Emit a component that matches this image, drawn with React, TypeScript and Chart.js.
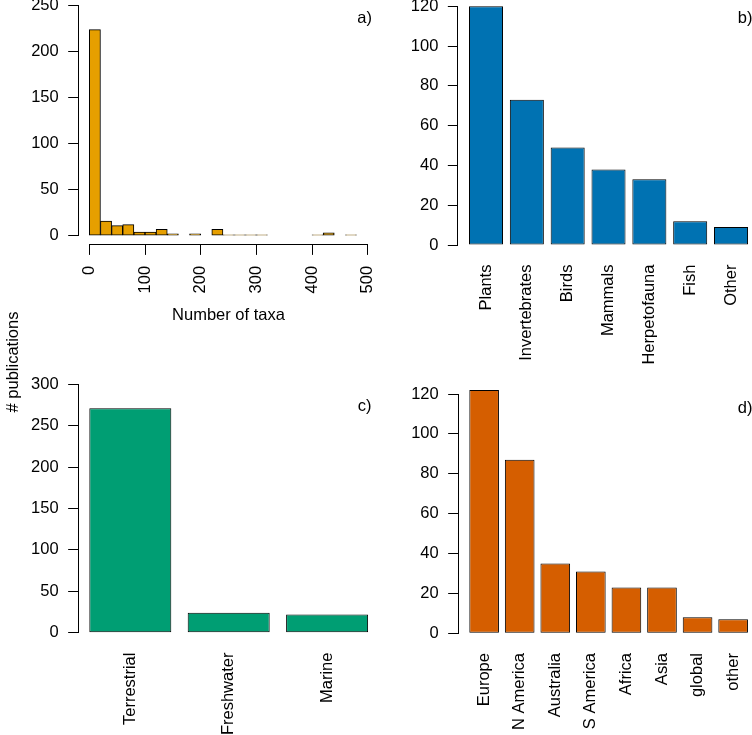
import React, { useEffect, useRef } from "react";
import { Chart, registerables } from "chart.js";

Chart.register(...registerables);

// ---------- data ----------
const taxaBinStarts = [0, 20, 40, 60, 80, 100, 120, 140, 160, 180, 200, 220, 240, 260, 280, 300, 320, 340, 360, 380, 400, 420, 440, 460, 480];
const taxaCounts = [224, 16, 11, 12, 4, 4, 7, 2, 0, 2, 0, 7, 1, 1, 1, 1, 0, 0, 0, 0, 1, 3, 0, 1, 0];
const taxaXTicks = [0, 100, 200, 300, 400, 500];
const taxaYTicks = [0, 50, 100, 150, 200, 250];

const groupLabels = ["Plants", "Invertebrates", "Birds", "Mammals", "Herpetofauna", "Fish", "Other"];
const groupCounts = [120, 73, 49, 38, 33, 12, 9];
const groupYTicks = [0, 20, 40, 60, 80, 100, 120];

const realmLabels = ["Terrestrial", "Freshwater", "Marine"];
const realmCounts = [271, 24, 22];
const realmYTicks = [0, 50, 100, 150, 200, 250, 300];

const regionLabels = ["Europe", "N America", "Australia", "S America", "Africa", "Asia", "global", "other"];
const regionCounts = [122, 87, 35, 31, 23, 23, 8, 7];
const regionYTicks = [0, 20, 40, 60, 80, 100, 120];

const BIN_WIDTH = 20;
const FONT = "'Liberation Sans', Arial, Helvetica, sans-serif";
const FONT_SIZE = 16.5;

// barplot positions (R style: width 1, space 0.2)
const barCenters = (n: number) => Array.from({ length: n }, (_, i) => 0.7 + 1.2 * i);

type Panel = {
  canvas: { left: number; top: number; width: number; height: number };
  pad: { top: number; right: number; bottom: number };
  yWidth: number;
  xHeight: number;
  xMin: number;
  xMax: number;
  yMin: number;
  yMax: number;
  points: { x: number; y: number }[];
  xTicks: number[];
  xLabels: string[] | null;
  yTicks: number[];
  color: string;
  barFrac: number;
  tag: string;
  tagX: number;
  tagY: number;
  xTitle: string | null;
  xTickMarks: boolean;
  xPad: number;
};

const panels: Panel[] = [
  {
    canvas: { left: 0, top: -6, width: 382, height: 333 },
    pad: { top: 2.5, right: 3.2, bottom: 1.7 },
    yWidth: 78.2,
    xHeight: 80.4,
    xMin: -20,
    xMax: 520,
    yMin: -10,
    yMax: 260,
    points: taxaBinStarts.map((s, i) => ({ x: s + BIN_WIDTH / 2, y: taxaCounts[i] })),
    xTicks: taxaXTicks,
    xLabels: null,
    yTicks: taxaYTicks,
    color: "#E69F00",
    barFrac: 1,
    tag: "a)",
    tagX: 372,
    tagY: 18.3,
    xTitle: "Number of taxa",
    xTickMarks: true,
    xPad: 11,
  },
  {
    canvas: { left: 380, top: -6, width: 390, height: 380 },
    pad: { top: 2.75, right: 10.8, bottom: 0 },
    yWidth: 77.84,
    xHeight: 119.45,
    xMin: -0.128,
    xMax: 8.728,
    yMin: -4.8,
    yMax: 124.8,
    points: barCenters(groupCounts.length).map((c, i) => ({ x: c, y: groupCounts[i] })),
    xTicks: barCenters(groupCounts.length),
    xLabels: groupLabels,
    yTicks: groupYTicks,
    color: "#0072B2",
    barFrac: 1 / 1.2,
    tag: "b)",
    tagX: 752.4,
    tagY: 18.3,
    xTitle: null,
    xTickMarks: false,
    xPad: 10,
  },
  {
    canvas: { left: 0, top: 360, width: 382, height: 375 },
    pad: { top: 14.4, right: 2.75, bottom: 0 },
    yWidth: 78.15,
    xHeight: 92.4,
    xMin: 0.064,
    xMax: 3.736,
    yMin: -12,
    yMax: 312,
    points: barCenters(realmCounts.length).map((c, i) => ({ x: c, y: realmCounts[i] })),
    xTicks: barCenters(realmCounts.length),
    xLabels: realmLabels,
    yTicks: realmYTicks,
    color: "#009E73",
    barFrac: 1 / 1.2,
    tag: "c)",
    tagX: 371.5,
    tagY: 406,
    xTitle: null,
    xTickMarks: false,
    xPad: 10,
  },
  {
    canvas: { left: 380, top: 360, width: 390, height: 375 },
    pad: { top: 20.3, right: 10.9, bottom: 0 },
    yWidth: 78.16,
    xHeight: 91.97,
    xMin: -0.176,
    xMax: 9.976,
    yMin: -4.88,
    yMax: 126.88,
    points: barCenters(regionCounts.length).map((c, i) => ({ x: c, y: regionCounts[i] })),
    xTicks: barCenters(regionCounts.length),
    xLabels: regionLabels,
    yTicks: regionYTicks,
    color: "#D55E00",
    barFrac: 1 / 1.2,
    tag: "d)",
    tagX: 752.4,
    tagY: 408,
    xTitle: null,
    xTickMarks: false,
    xPad: 10,
  },
];

const align = (v: number) => Math.round(v - 0.5) + 0.5;

function makeConfig(p: Panel): any {
  const axisPlugin = {
    id: "rAxes",
    afterDraw(chart: any) {
      const { ctx, chartArea } = chart;
      const xs = chart.scales.x;
      const ys = chart.scales.y;
      ctx.save();
      ctx.strokeStyle = "#000";
      ctx.lineWidth = 1;
      // y axis segment
      const yx = align(chartArea.left);
      const y0 = align(ys.getPixelForValue(p.yTicks[0]));
      const y1 = align(ys.getPixelForValue(p.yTicks[p.yTicks.length - 1]));
      ctx.beginPath();
      ctx.moveTo(yx, y0 + 0.5);
      ctx.lineTo(yx, y1 - 0.5);
      ctx.stroke();
      if (p.xTickMarks) {
        const xy = align(chartArea.bottom);
        const x0 = align(xs.getPixelForValue(p.xTicks[0]));
        const x1 = align(xs.getPixelForValue(p.xTicks[p.xTicks.length - 1]));
        ctx.beginPath();
        ctx.moveTo(x0 - 0.5, xy);
        ctx.lineTo(x1 + 0.5, xy);
        ctx.stroke();
      }
      // panel tag
      ctx.fillStyle = "#000";
      ctx.font = `${FONT_SIZE}px ${FONT}`;
      ctx.textAlign = "right";
      ctx.textBaseline = "middle";
      ctx.fillText(p.tag, p.tagX - p.canvas.left, p.tagY - p.canvas.top);
      ctx.restore();
    },
  };

  const tickFont = { family: FONT, size: FONT_SIZE };

  return {
    type: "bar",
    data: {
      datasets: [
        {
          data: p.points,
          backgroundColor: p.color,
          borderColor: "#000",
          borderWidth: 1,
          borderSkipped: false,
          barPercentage: p.barFrac,
          categoryPercentage: 1,
        },
      ],
    },
    options: {
      responsive: false,
      maintainAspectRatio: false,
      animation: false,
      devicePixelRatio: 1,
      layout: {
        autoPadding: false,
        padding: { top: p.pad.top, right: p.pad.right, bottom: p.pad.bottom, left: 0 },
      },
      plugins: {
        legend: { display: false },
        tooltip: { enabled: false },
      },
      scales: {
        x: {
          type: "linear",
          min: p.xMin,
          max: p.xMax,
          offset: false,
          border: { display: false },
          grid: p.xTickMarks
            ? { display: true, drawOnChartArea: false, drawTicks: true, tickLength: 10, color: "#000", lineWidth: 1, offset: false }
            : { display: false, drawTicks: false, offset: false },
          ticks: {
            autoSkip: false,
            minRotation: 90,
            maxRotation: 90,
            padding: p.xPad,
            font: tickFont,
            color: "#000",
            callback: (value: number, index: number) => (p.xLabels ? p.xLabels[index] : String(value)),
          },
          afterBuildTicks: (s: any) => {
            s.ticks = p.xTicks.map((v) => ({ value: v }));
          },
          afterFit: (s: any) => {
            s.height = p.xHeight;
            s.paddingLeft = 0;
            s.paddingRight = 0;
            s.paddingTop = 0;
            s.paddingBottom = 0;
          },
          title: p.xTitle
            ? { display: true, text: p.xTitle, font: { family: FONT, size: FONT_SIZE }, color: "#000", padding: { top: 0, bottom: 0 } }
            : { display: false },
        },
        y: {
          type: "linear",
          min: p.yMin,
          max: p.yMax,
          border: { display: false },
          grid: { display: true, drawOnChartArea: false, drawTicks: true, tickLength: 10, color: "#000", lineWidth: 1 },
          ticks: { padding: 9.5, font: tickFont, color: "#000" },
          afterBuildTicks: (s: any) => {
            s.ticks = p.yTicks.map((v) => ({ value: v }));
          },
          afterFit: (s: any) => {
            s.width = p.yWidth;
            s.paddingLeft = 0;
            s.paddingRight = 0;
            s.paddingTop = 0;
            s.paddingBottom = 0;
          },
        },
      },
    },
    plugins: [axisPlugin],
  };
}

function PanelChart({ p }: { p: Panel }) {
  const ref = useRef<HTMLCanvasElement>(null);
  useEffect(() => {
    const chart = new Chart(ref.current as HTMLCanvasElement, makeConfig(p));
    return () => chart.destroy();
  }, [p]);
  return (
    <canvas
      ref={ref}
      width={p.canvas.width}
      height={p.canvas.height}
      style={{
        position: "absolute",
        left: p.canvas.left,
        top: p.canvas.top,
        width: p.canvas.width,
        height: p.canvas.height,
      }}
    />
  );
}

export default function App() {
  return (
    <div
      style={{
        position: "absolute",
        left: 0,
        top: 0,
        width: 752,
        height: 735,
        overflow: "hidden",
        background: "#fff",
      }}
    >
      {panels.map((p, i) => (
        <PanelChart key={i} p={p} />
      ))}
      <div
        style={{
          position: "absolute",
          left: 12 - 100,
          top: 362 - 10,
          width: 200,
          height: 20,
          lineHeight: "20px",
          textAlign: "center",
          fontFamily: FONT,
          fontSize: FONT_SIZE,
          color: "#000",
          transform: "rotate(-90deg)",
          whiteSpace: "nowrap",
        }}
      >
        # publications
      </div>
    </div>
  );
}
